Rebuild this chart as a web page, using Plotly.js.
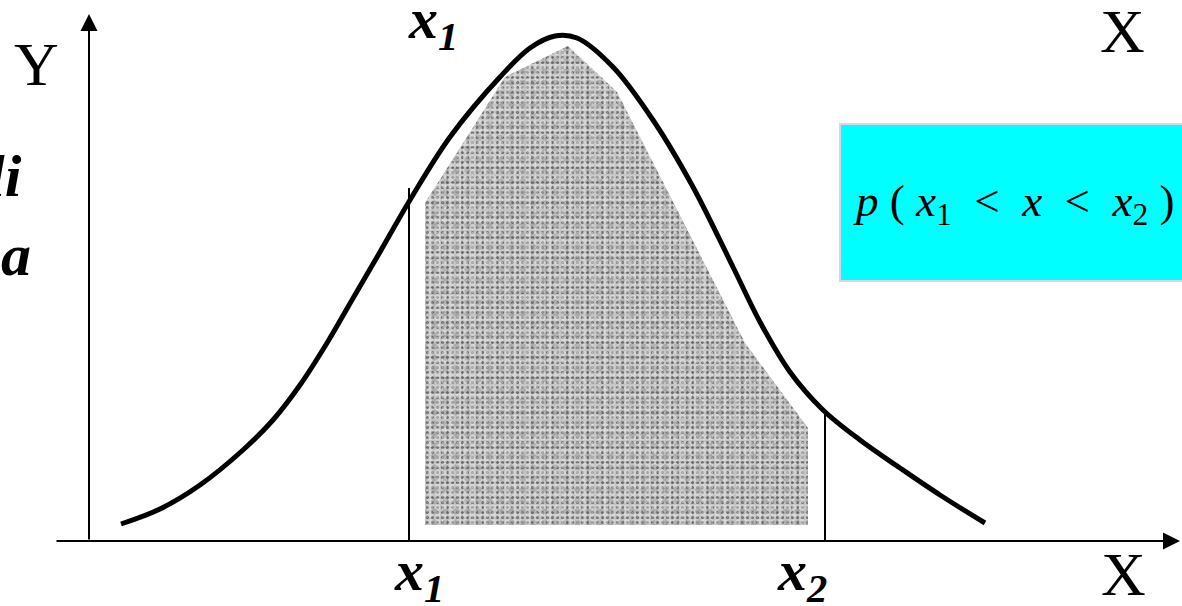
<!DOCTYPE html>
<html>
<head>
<meta charset="utf-8">
<script src="https://cdn.plot.ly/plotly-3.0.1.min.js"></script>
<style>
  html, body { margin: 0; padding: 0; background: #ffffff; }
  #chart { width: 1182px; height: 606px; }
</style>
</head>
<body>
<div id="chart"></div>
<script>
// Density curve, read along its length (origin where the two axes cross)
const curveX = [32, 71, 111, 154, 184, 211, 238, 263, 291, 321, 361, 411, 441, 466, 488, 524, 564, 604, 644, 671, 701, 734, 771, 811, 851, 896];
const curveY = [17, 32, 56, 91, 121, 156, 198, 241, 289, 341, 404, 464, 493, 505, 503, 474, 421, 354, 274, 219, 169, 131, 101, 73, 46, 18];

// Shaded probability region between x1 and x2
const shadeX = [336, 336, 416, 479, 528, 656, 719, 719, 336];
const shadeY = [16, 338, 464, 495, 449, 198, 113, 16, 16];

// Bounds of the interval and the height of their markers
const boundX = [320, 736];
const boundTop = [353, 129];
const boundLabels = ['x<sub>1</sub>', 'x<sub>2</sub>'];
const boundLabelShift = [-17, -50];

const serif = 'Liberation Serif, Times New Roman, serif';
const W = 1182, H = 606;
const X0 = 89, Y0 = 541;              // pixel position of the axes' crossing
const px = (x) => x / W;
const py = (y) => 1 - y / H;
const NB = '\u00a0';

// grainy fill: several dot screens of different pitch laid over a grey base
const grain = [
  { fillcolor: '#bdbdbd', pattern: { shape: '.', bgcolor: '#c4c4c4', fgcolor: '#6a6a6a', size: 5, solidity: 0.3, fillmode: 'replace' } },
  { fillcolor: 'rgba(0,0,0,0)', pattern: { shape: '.', fgcolor: 'rgba(235,235,235,0.85)', size: 7, solidity: 0.45, fillmode: 'overlay' } },
  { fillcolor: 'rgba(0,0,0,0)', pattern: { shape: '.', fgcolor: 'rgba(90,90,90,0.55)', size: 11, solidity: 0.25, fillmode: 'overlay' } },
  { fillcolor: 'rgba(0,0,0,0)', pattern: { shape: '.', fgcolor: 'rgba(250,250,250,0.5)', size: 3, solidity: 0.2, fillmode: 'overlay' } }
];

const traces = grain.map(g => ({
  x: shadeX, y: shadeY, type: 'scatter', mode: 'lines',
  line: { width: 0, color: 'rgba(0,0,0,0)' },
  fill: 'toself', fillcolor: g.fillcolor, fillpattern: g.pattern,
  hoverinfo: 'skip'
}));

traces.push({
  x: curveX, y: curveY, type: 'scatter', mode: 'lines',
  line: { color: '#000', width: 5, shape: 'spline', smoothing: 1 },
  hoverinfo: 'skip'
});

// Vertical markers at x1 and x2
boundX.forEach((bx, i) => {
  traces.push({
    x: [bx, bx], y: [0, boundTop[i]], type: 'scatter', mode: 'lines',
    line: { color: '#000', width: 2 }, hoverinfo: 'skip'
  });
});

const boldItalic = (size) => ({ family: serif, size: size, color: '#000', weight: 'bold', style: 'italic' });
const plain = (size) => ({ family: serif, size: size, color: '#000' });

const annotations = [
  // axes with arrowheads
  { x: 1180 - X0, y: 0, ax: 55 - X0, ay: 0, xref: 'x', yref: 'y', axref: 'x', ayref: 'y',
    showarrow: true, arrowhead: 2, arrowsize: 1.7, arrowwidth: 2, arrowcolor: '#000', standoff: 0, startstandoff: 0, text: '' },
  { x: 0, y: Y0 - 14, ax: 0, ay: 0, xref: 'x', yref: 'y', axref: 'x', ayref: 'y',
    showarrow: true, arrowhead: 2, arrowsize: 1.7, arrowwidth: 2, arrowcolor: '#000', standoff: 0, startstandoff: 0, text: '' },

  // axis letters
  { text: 'Y', x: px(36), y: py(64), xref: 'paper', yref: 'paper', showarrow: false,
    xanchor: 'center', yanchor: 'middle', font: plain(62) },
  { text: 'X', x: px(1122), y: py(31), xref: 'paper', yref: 'paper', showarrow: false,
    xanchor: 'center', yanchor: 'middle', font: plain(62) },
  { text: 'X', x: px(1123), y: py(574), xref: 'paper', yref: 'paper', showarrow: false,
    xanchor: 'center', yanchor: 'middle', font: plain(62) },

  // x1 above the peak
  { text: '<b><i>x<sub>1</sub></i></b>', x: px(406), y: py(23), xref: 'paper', yref: 'paper', showarrow: false,
    xanchor: 'left', yanchor: 'middle', font: boldItalic(58) },

  // words running off the left edge
  { text: '<b><i>li</i></b>', x: px(24), y: py(176), xref: 'paper', yref: 'paper', showarrow: false,
    xanchor: 'right', yanchor: 'middle', font: boldItalic(60) },
  { text: '<b><i>a</i></b>', x: px(33), y: py(255), xref: 'paper', yref: 'paper', showarrow: false,
    xanchor: 'right', yanchor: 'middle', font: boldItalic(60) },

  // probability statement
  { text: '<i>p</i>' + NB + '(' + NB + '<i>x</i><sub>1</sub>' + NB + NB + '&lt;' + NB + NB + '<i>x</i>' + NB + NB + '&lt;' + NB + NB +
          '<i>x</i><sub>2</sub>' + NB + ')',
    x: px(851), y: py(204), xref: 'paper', yref: 'paper', showarrow: false, xanchor: 'left', yanchor: 'middle',
    font: plain(45) }
];

// Interval labels under the axis
boundX.forEach((bx, i) => {
  annotations.push({
    text: '<b><i>' + boundLabels[i] + '</i></b>', x: bx + boundLabelShift[i], y: -33, xref: 'x', yref: 'y', showarrow: false,
    xanchor: 'left', yanchor: 'middle', font: boldItalic(58)
  });
});

const layout = {
  width: W, height: H,
  margin: { l: 0, r: 0, t: 0, b: 0 },
  paper_bgcolor: '#ffffff', plot_bgcolor: '#ffffff',
  showlegend: false,
  xaxis: { range: [-X0, W - X0], visible: false, fixedrange: true },
  yaxis: { range: [Y0 - H, Y0], visible: false, fixedrange: true },
  shapes: [
    { type: 'rect', xref: 'paper', yref: 'paper', x0: px(840), x1: px(1195), y0: py(281), y1: py(124),
      fillcolor: '#00ffff', line: { color: '#d6d6e6', width: 2 }, layer: 'below' }
  ],
  annotations: annotations
};

Plotly.newPlot('chart', traces, layout, { staticPlot: true, displayModeBar: false });
</script>
</body>
</html>
